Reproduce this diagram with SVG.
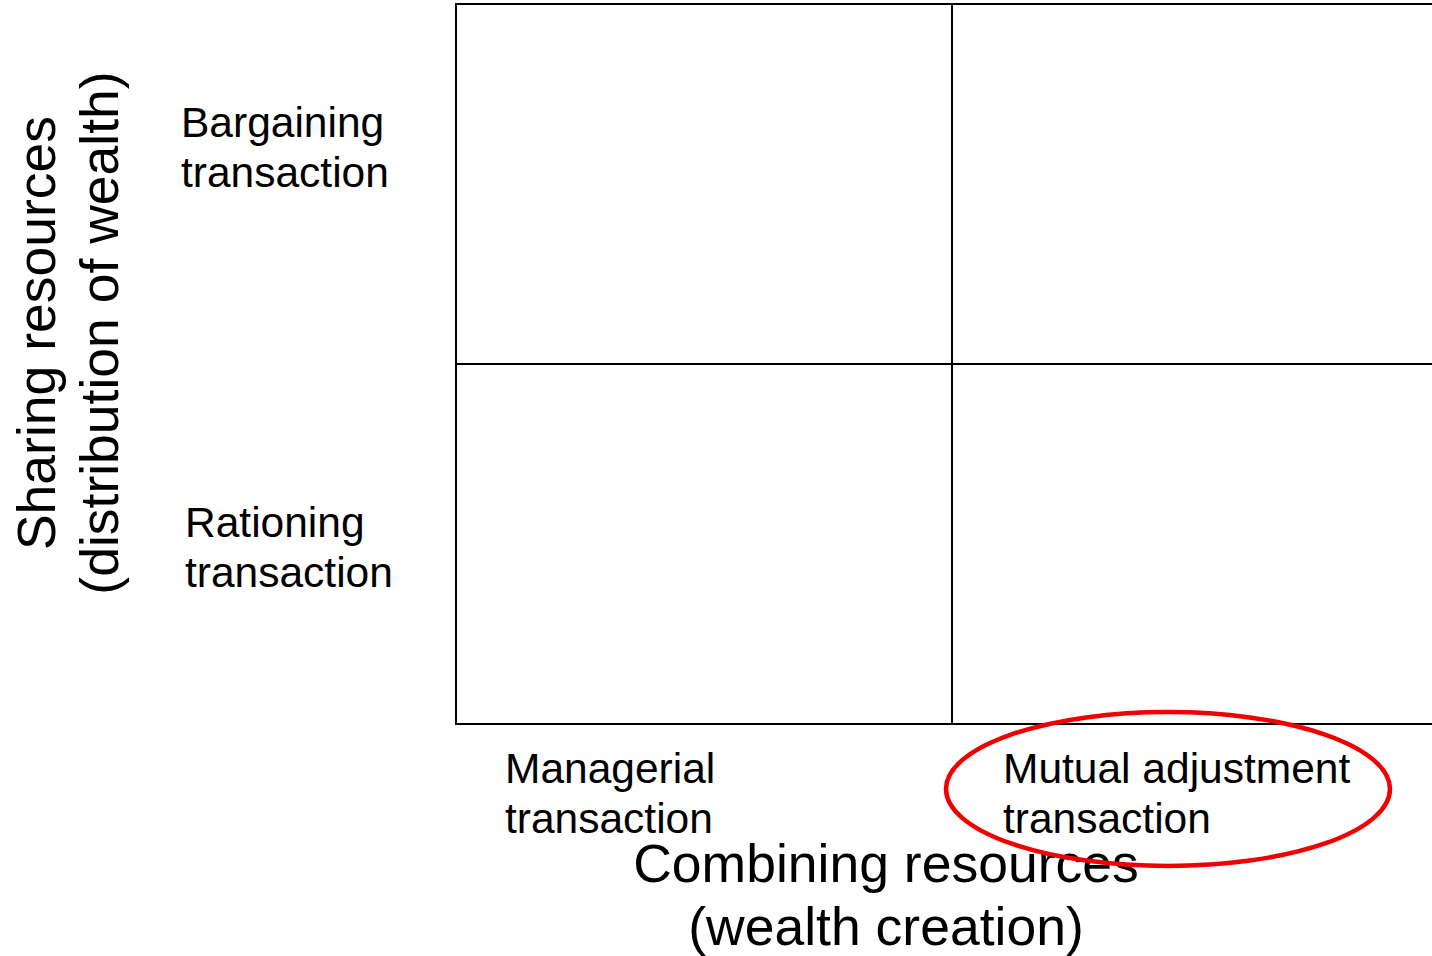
<svg xmlns="http://www.w3.org/2000/svg" width="1432" height="956" viewBox="0 0 1432 956">
  <style>
    text { font-family: "Liberation Sans", Arial, sans-serif; fill: #000; }
    .lbl { font-size: 42.5px; }
    .axis { font-size: 53.5px; text-anchor: middle; }
    .grid { fill: none; stroke: #000; stroke-width: 2; }
  </style>
  <rect width="1432" height="956" fill="#fff"/>

  <g id="matrix">
    <rect class="grid" x="456" y="4" width="1000" height="720"/>
    <line class="grid" x1="952" y1="4" x2="952" y2="724"/>
    <line class="grid" x1="456" y1="364" x2="1456" y2="364"/>
  </g>

  <g id="row-bargaining">
    <text class="lbl" x="181" y="137">Bargaining</text>
    <text class="lbl" x="181" y="187">transaction</text>
  </g>
  <g id="row-rationing">
    <text class="lbl" x="185" y="537">Rationing</text>
    <text class="lbl" x="185" y="587">transaction</text>
  </g>
  <g id="col-managerial">
    <text class="lbl" x="505" y="783">Managerial</text>
    <text class="lbl" x="505" y="833">transaction</text>
  </g>
  <g id="col-mutual">
    <text class="lbl" x="1003" y="783">Mutual adjustment</text>
    <text class="lbl" x="1003" y="833">transaction</text>
  </g>

  <g id="axis-x">
    <text class="axis" x="886" y="882">Combining resources</text>
    <text class="axis" x="886" y="945">(wealth creation)</text>
  </g>
  <g id="axis-y" transform="translate(0,333) rotate(-90)">
    <text class="axis" x="0" y="55">Sharing resources</text>
    <text class="axis" x="0" y="118">(distribution of wealth)</text>
  </g>

  <g id="connectors">
    <ellipse id="highlight" cx="1168" cy="789" rx="222" ry="77" fill="none" stroke="#f00000" stroke-width="4.5"/>
  </g>
</svg>
